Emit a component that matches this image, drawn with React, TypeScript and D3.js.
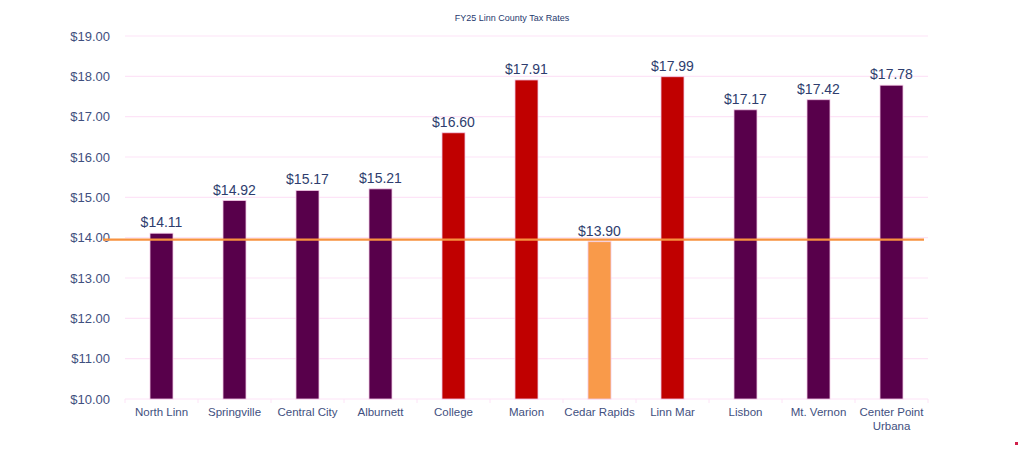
import * as d3 from "d3";

const districts = [
  "North Linn",
  "Springville",
  "Central City",
  "Alburnett",
  "College",
  "Marion",
  "Cedar Rapids",
  "Linn Mar",
  "Lisbon",
  "Mt. Vernon",
  "Center Point Urbana",
];
const rates = [14.11, 14.92, 15.17, 15.21, 16.6, 17.91, 13.9, 17.99, 17.17, 17.42, 17.78];
const barGroup = ["other", "other", "other", "other", "high", "high", "cr", "high", "other", "other", "other"];
const yTicks = [10, 11, 12, 13, 14, 15, 16, 17, 18, 19];
const referenceRate = 13.95;

const colors: Record<string, string> = {
  other: "#58004b",
  high: "#c00000",
  cr: "#f99a4a",
};

export default function App() {
  const width = 1024;
  const height = 451;
  const marginLeft = 125;
  const marginRight = 96;
  const marginTop = 36;
  const marginBottom = 52;

  const x = d3
    .scaleBand<string>()
    .domain(districts)
    .range([marginLeft, width - marginRight])
    .paddingInner(0.685)
    .paddingOuter(0.3425);
  const band = d3.scaleBand<string>().domain(districts).range([marginLeft, width - marginRight]);

  const y = d3.scaleLinear().domain([10, 19]).range([height - marginBottom, marginTop]);

  const fmt = d3.format("$.2f");
  const textColor = "#3f5080";
  const font = "'Liberation Sans', Arial, sans-serif";

  return (
    <svg
      width={width}
      height={height}
      style={{ position: "absolute", left: 0, top: 0, background: "#fff" }}
      fontFamily={font}
    >
      <text x={512} y={21} textAnchor="middle" fontSize={9} fill="#1f3a6e">
        FY25 Linn County Tax Rates
      </text>

      {/* grid */}
      {yTicks.map((t) => (
        <g key={t}>
          <line
            x1={marginLeft}
            x2={width - marginRight}
            y1={y(t)}
            y2={y(t)}
            stroke="#fde4f7"
            strokeWidth={1.2}
          />
          <text
            x={110}
            y={y(t)}
            dy="0.35em"
            textAnchor="end"
            fontSize={13}
            fill={textColor}
          >
            {fmt(t)}
          </text>
        </g>
      ))}

      {/* category ticks */}
      {districts.map((d) => (
        <line
          key={"t" + d}
          x1={band(d)!}
          x2={band(d)!}
          y1={y(10)}
          y2={y(10) + 4}
          stroke="#fde4f7"
        />
      ))}
      <line
        x1={width - marginRight}
        x2={width - marginRight}
        y1={y(10)}
        y2={y(10) + 4}
        stroke="#fde4f7"
      />

      {/* bars */}
      {districts.map((d, i) => (
        <g key={d}>
          <rect
            x={x(d)!}
            y={y(rates[i])}
            width={x.bandwidth()}
            height={y(10) - y(rates[i])}
            fill={colors[barGroup[i]]}
            stroke="#f3c9e6"
            strokeWidth={0.8}
          />
          <text
            x={x(d)! + x.bandwidth() / 2}
            y={y(rates[i]) - 6}
            textAnchor="middle"
            fontSize={14}
            fill="#2e3d6e"
          >
            {fmt(rates[i])}
          </text>
        </g>
      ))}

      {/* x labels */}
      {districts.map((d) => {
        const cx = band(d)! + band.bandwidth() / 2;
        const lines = d === "Center Point Urbana" ? ["Center Point", "Urbana"] : [d];
        return (
          <text key={"l" + d} x={cx} y={y(10) + 17} textAnchor="middle" fontSize={11.5} fill={textColor}>
            {lines.map((ln, k) => (
              <tspan key={k} x={cx} dy={k === 0 ? 0 : 14}>
                {ln}
              </tspan>
            ))}
          </text>
        );
      })}

      {/* reference line */}
      <line
        x1={103}
        x2={924}
        y1={y(referenceRate)}
        y2={y(referenceRate)}
        stroke="#f7923f"
        strokeWidth={2.2}
      />

      <rect x={1015} y={442} width={3} height={3} fill="#d0204a" />
    </svg>
  );
}
